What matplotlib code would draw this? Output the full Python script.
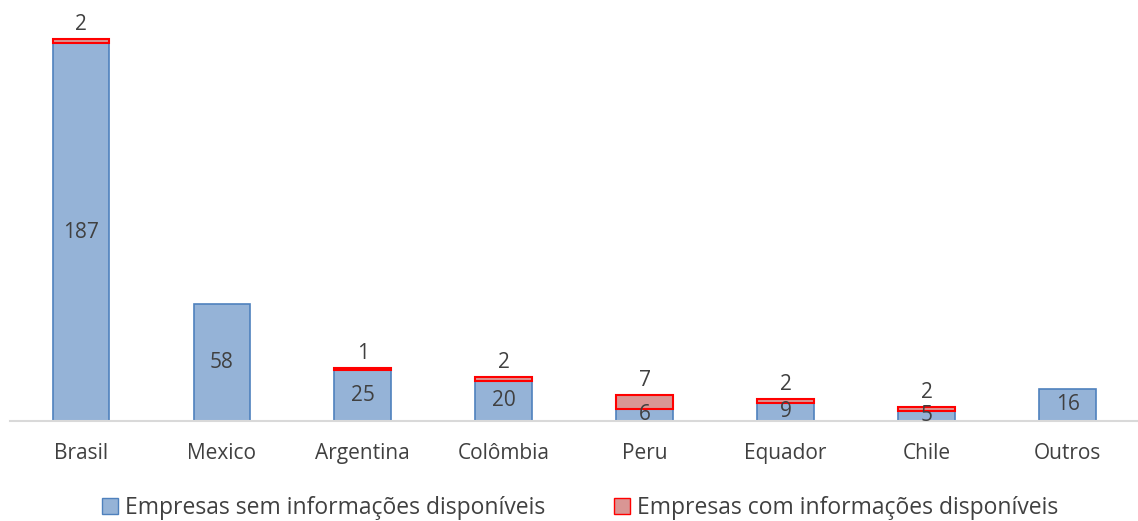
import numpy as np
import matplotlib
matplotlib.use('Agg')
import matplotlib.pyplot as plt
from matplotlib.patches import Patch

plt.rcParams['font.family'] = ['Open Sans', 'DejaVu Sans']

paises = ['Brasil', 'Mexico', 'Argentina', 'Colômbia', 'Peru', 'Equador', 'Chile', 'Outros']
sem_info = [187, 58, 25, 20, 6, 9, 5, 16]
com_info = [2, 0, 1, 2, 7, 2, 2, 0]

TXT = '#404040'
AZUL, AZUL_BORDA = '#95B3D7', '#4F81BD'
VERM, VERM_BORDA = '#D99694', '#FF0000'

fig = plt.figure(figsize=(11.38, 5.21), dpi=100)
ax = fig.add_axes([0.009, 0.192, 0.991, 0.775])

x = np.arange(len(paises))
w = 0.40
ax.bar(x, sem_info, w, color=AZUL, edgecolor=AZUL_BORDA, linewidth=1.2)

# só desenha o segmento vermelho onde há valor (evita linha vermelha em barras com 0)
idx = [i for i, c in enumerate(com_info) if c > 0]
ax.bar(x[idx], [com_info[i] for i in idx], w, bottom=[sem_info[i] for i in idx],
       color=VERM, edgecolor=VERM_BORDA, linewidth=1.5)

for xi, s, c in zip(x, sem_info, com_info):
    ax.text(xi, s / 2, str(s), ha='center', va='center', fontsize=15, color=TXT)
    if c > 0:
        ax.text(xi, s + c + 2, str(c), ha='center', va='bottom', fontsize=15, color=TXT)

ax.set_xlim(-0.5, 7.5)
ax.set_ylim(0, 200)
ax.set_xticks(x)
ax.set_xticklabels(paises, fontsize=15, color=TXT)
ax.tick_params(axis='x', length=0, pad=16)
ax.set_yticks([])
for s in ['top', 'right', 'left']:
    ax.spines[s].set_visible(False)
ax.spines['bottom'].set_color('#D9D9D9')
ax.spines['bottom'].set_linewidth(1.5)

handles = [Patch(facecolor=AZUL, edgecolor=AZUL_BORDA, label='Empresas sem informações disponíveis'),
           Patch(facecolor=VERM, edgecolor=VERM_BORDA, label='Empresas com informações disponíveis')]
fig.legend(handles=handles, loc='center', bbox_to_anchor=(0.51, 0.025), ncol=2, frameon=False,
           fontsize=16.5, labelcolor=TXT, handlelength=0.7, handleheight=0.7,
           handletextpad=0.3, columnspacing=3.0)

fig.savefig('out.png', dpi=100)
